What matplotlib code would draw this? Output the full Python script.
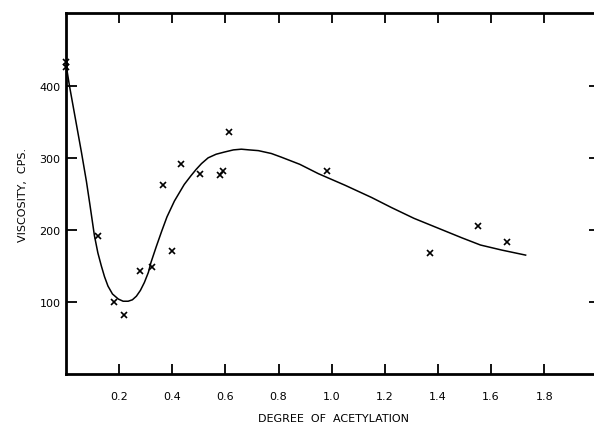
import matplotlib
matplotlib.use("Agg")
from matplotlib import pyplot as plt

# measured points (degree of acetylation vs viscosity)
ds = [0.0, 0.0, 0.12, 0.18, 0.22, 0.28, 0.325, 0.366, 0.40, 0.434,
      0.506, 0.58, 0.59, 0.615, 0.984, 1.37, 1.552, 1.66]
visc = [433, 426, 192, 100, 82, 143, 149, 262, 171, 291,
        278, 276, 282, 336, 282, 168, 205, 183]

# hand-drawn smooth curve through the data
curve_x = [0.0, 0.013, 0.035, 0.058, 0.077, 0.09, 0.107, 0.12, 0.133,
           0.145, 0.158, 0.175, 0.197, 0.215, 0.234, 0.25, 0.265, 0.28,
           0.295, 0.31, 0.32, 0.34, 0.36, 0.38, 0.408, 0.445, 0.47,
           0.49, 0.51, 0.535, 0.565, 0.596, 0.63, 0.66, 0.69, 0.724,
           0.773, 0.81, 0.88, 0.95, 1.05, 1.15, 1.225, 1.31, 1.41,
           1.49, 1.56, 1.64, 1.73]
curve_y = [430, 400, 355, 308, 267, 235, 192, 168, 150,
           135, 122, 111, 104, 101, 101, 103, 108, 116,
           127, 141, 155, 177, 198, 218, 240, 263, 275,
           284, 292, 300, 305, 308, 311, 312, 311, 310,
           306, 301, 291, 278, 262, 245, 231, 216, 201,
           189, 179, 172, 165]

xticks = [0.2, 0.4, 0.6, 0.8, 1.0, 1.2, 1.4, 1.6, 1.8]
xticklabels = ["0.2", "0.4", "0.6", "0.8", "1.0", "1.2", "1.4", "1.6", "1.8"]
yticks = [100, 200, 300, 400]

fig = plt.figure(figsize=(5.94, 4.31), dpi=100)
ax = fig.add_axes([66 / 594, 56 / 431, 534 / 594, 361 / 431])

ax.plot(curve_x, curve_y, color="black", linewidth=1.1)
ax.plot(ds, visc, linestyle="none", marker="x", color="black",
        markersize=5, markeredgewidth=1.2, clip_on=False, zorder=5)

ax.set_xlim(0, 2.01)
ax.set_ylim(0, 501)

ax.set_xticks(xticks)
ax.set_xticklabels(xticklabels)
ax.set_yticks(yticks)

for s in ax.spines.values():
    s.set_linewidth(2.0)
ax.spines["right"].set_visible(False)

ax.tick_params(axis="x", direction="in", length=7, width=1.3, top=True,
               labelsize=8, pad=12)
ax.tick_params(axis="y", direction="in", length=8, width=1.3, right=True,
               labelsize=8, pad=4)

ax.set_xlabel("DEGREE  OF  ACETYLATION", fontsize=8, labelpad=9)
ax.set_ylabel("VISCOSITY,  CPS.", fontsize=8, labelpad=8)

plt.savefig("out.png", dpi=100)
